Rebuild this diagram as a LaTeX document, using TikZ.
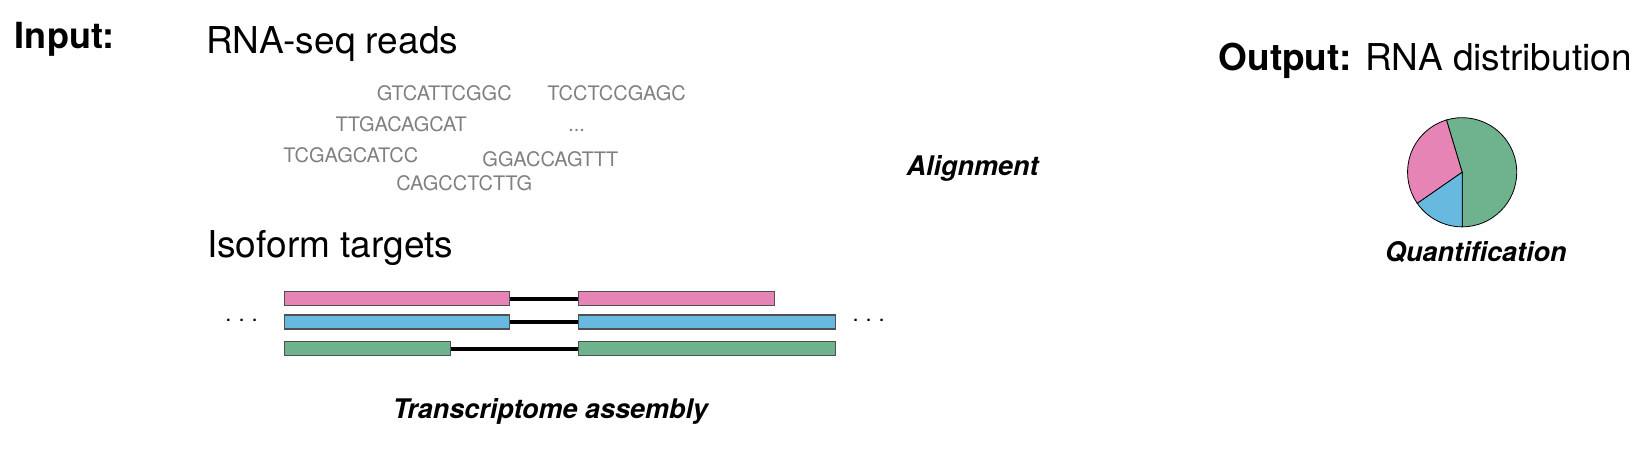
\documentclass[tikz,border=0pt]{standalone}
\usepackage{fontspec}
\setmainfont{TeX Gyre Heros}
\usepackage{tikz}
\usetikzlibrary{positioning}

\definecolor{isopink}{RGB}{230,133,181}
\definecolor{isoblue}{RGB}{104,185,224}
\definecolor{isogreen}{RGB}{110,178,142}
\definecolor{barline}{RGB}{80,80,80}
\definecolor{readgray}{RGB}{128,128,128}

\begin{document}
\begin{tikzpicture}[x=1.0504pt, y=-1.0504pt,
  heading/.style={anchor=west, inner sep=0pt, font=\fontsize{37}{40}\selectfont},
  read/.style={inner sep=0pt, text=readgray, font=\fontsize{20}{24}\selectfont},
  stage/.style={inner sep=0pt, font=\fontsize{27}{30}\selectfont\bfseries\itshape},
  bar/.style={draw=barline, line width=1.3pt, minimum height=14pt, inner sep=0pt, anchor=west},
  intron/.style={line width=4pt, black},
  more/.style={inner sep=0pt, font=\fontsize{22}{24}\selectfont}]
  \useasboundingbox (0,0) rectangle (1568,428);

  % Input side
  \node[heading, font=\fontsize{36}{40}\selectfont] (input) at (14,37) {\bfseries Input:};
  \node[heading] (reads) at (196,42) {RNA-seq reads};

  % Reads
  \node[read] (r1) at (423,89) {GTCATTCGGC};
  \node[read] (r2) at (587,89) {TCCTCCGAGC};
  \node[read] (r3) at (382,118) {TTGACAGCAT};
  \node[read] (r4) at (549,124) {...};
  \node[read] (r5) at (334,148) {TCGAGCATCC};
  \node[read] (r6) at (524,152) {GGACCAGTTT};
  \node[read] (r7) at (442,174) {CAGCCTCTTG};

  \node[stage] (align) at (926,160) {Alignment};

  % Isoforms
  \node[heading] (targets) at (197,236) {Isoform targets};

  \node[bar, fill=isopink, minimum width=225pt] (pinkA) at (270,284.5) {};
  \node[bar, fill=isopink, minimum width=196pt] (pinkB) at (550,284.5) {};
  \node[bar, fill=isoblue, minimum width=225pt] (blueA) at (270,306.5) {};
  \node[bar, fill=isoblue, minimum width=257pt] (blueB) at (550,306.5) {};
  \node[bar, fill=isogreen, minimum width=166pt] (greenA) at (270,332) {};
  \node[bar, fill=isogreen, minimum width=257pt] (greenB) at (550,332) {};
  \draw[intron] (pinkA.east) -- (pinkB.west);
  \draw[intron] (blueA.east) -- (blueB.west);
  \draw[intron] (greenA.east) -- (greenB.west);

  \node[more] (dotsL) at (230,305) {.\hspace{7pt}.\hspace{7pt}.};
  \node[more] (dotsR) at (827,305) {.\hspace{7pt}.\hspace{7pt}.};

  \node[stage] (assembly) at (524,392) {Transcriptome assembly};

  % Output side
  \node[heading] (output) at (1160,58) {\textbf{Output:} RNA distribution};

  \coordinate (pie) at (1392,164);
  \filldraw[fill=isogreen, draw=black, line width=0.8pt] (pie) -- ++(-90:54.6pt)
    arc[start angle=-90, end angle=106.7, radius=54.6pt] -- cycle;
  \filldraw[fill=isopink, draw=black, line width=0.8pt] (pie) -- ++(106.7:54.6pt)
    arc[start angle=106.7, end angle=214.7, radius=54.6pt] -- cycle;
  \filldraw[fill=isoblue, draw=black, line width=0.8pt] (pie) -- ++(214.7:54.6pt)
    arc[start angle=214.7, end angle=270, radius=54.6pt] -- cycle;

  \node[stage] (quant) at (1405,240) {Quantification};
\end{tikzpicture}
\end{document}
